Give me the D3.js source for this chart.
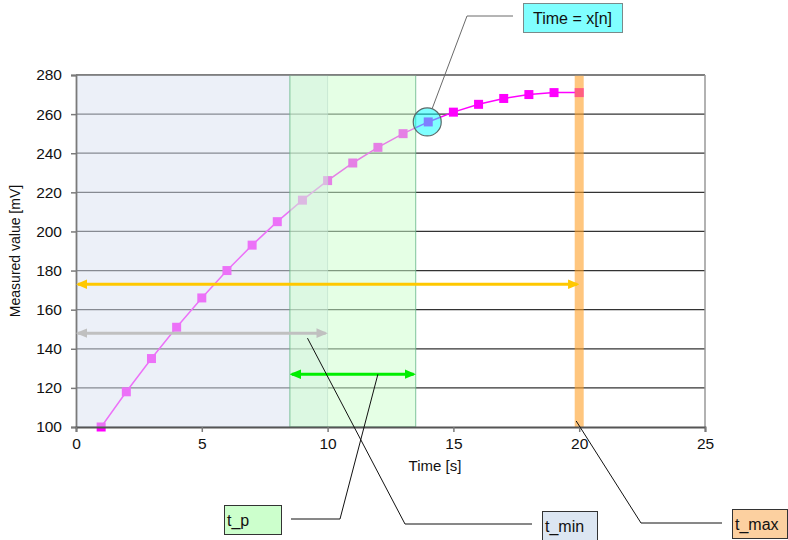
<!DOCTYPE html>
<html>
<head>
<meta charset="utf-8">
<script src="https://cdn.jsdelivr.net/npm/d3@7"></script>
<style>
  html, body { margin: 0; padding: 0; background: #fff; }
  svg { display: block; font-family: "Liberation Sans", Arial, sans-serif; }
</style>
</head>
<body>
<svg id="chart" width="788" height="540"></svg>
<script>
// ---- data ----
const times = [1, 2, 3, 4, 5, 6, 7, 8, 9, 10, 11, 12, 13, 14, 15, 16, 17, 18, 19, 20];
const values = [100, 118, 135, 151, 166, 180, 193, 205, 216, 226, 235, 243, 250, 256, 261, 265, 268, 270, 271, 271];
const xTicks = [0, 5, 10, 15, 20, 25];
const yTicks = [100, 120, 140, 160, 180, 200, 220, 240, 260, 280];
const tMinRange = [0, 10];
const tPRange = [8.5, 13.5];
const tMax = 20;
const xnIndex = 13; // x[n] = 14
const arrowYellow = [0, 20, 173];
const arrowGray = [0, 10, 148];
const arrowGreen = [8.5, 13.5, 127];
const labels = { xn: "Time = x[n]", tp: "t_p", tmin: "t_min", tmax: "t_max" };

// ---- layout ----
const svg = d3.select("#chart");
const m = { left: 76, right: 705, top: 75, bottom: 427 };
const x = d3.scaleLinear().domain([0, 25]).range([m.left, m.right]);
const y = d3.scaleLinear().domain([100, 280]).range([m.bottom, m.top]);

// defs: clip + arrow markers
const defs = svg.append("defs");
defs.append("clipPath").attr("id", "plotclip").append("rect")
  .attr("x", m.left).attr("y", m.top).attr("width", m.right - m.left).attr("height", m.bottom - m.top);
function marker(id, color) {
  defs.append("marker").attr("id", id).attr("viewBox", "0 0 10 10")
    .attr("refX", 8).attr("refY", 5).attr("markerWidth", 3.8).attr("markerHeight", 3.8)
    .attr("markerUnits", "strokeWidth").attr("orient", "auto-start-reverse")
    .append("path").attr("d", "M0,0.8 L10,5 L0,9.2 Z").attr("fill", color);
}
marker("arrY", "#ffc800");
marker("arrG", "#c0c0c0");
marker("arrN", "#00ee00");

// grid lines
svg.append("g").selectAll("line").data(yTicks.filter(d => d !== 100)).join("line")
  .attr("x1", m.left).attr("x2", m.right)
  .attr("y1", d => y(d)).attr("y2", d => y(d))
  .attr("stroke", "#333").attr("stroke-width", 1.3);

// line + markers
const line = d3.line().x((d, i) => x(times[i])).y(d => y(d));
svg.append("path").datum(values).attr("d", line)
  .attr("fill", "none").attr("stroke", "#ff00ff").attr("stroke-width", 1.5);
svg.append("g").selectAll("rect").data(values).join("rect")
  .attr("x", (d, i) => x(times[i]) - 4.5).attr("y", d => y(d) - 4.5)
  .attr("width", 9).attr("height", 9).attr("fill", "#ff00ff");

// overlays
const ov = svg.append("g").attr("clip-path", "url(#plotclip)");
ov.append("rect")
  .attr("x", x(tMinRange[0])).attr("width", x(tMinRange[1]) - x(tMinRange[0]))
  .attr("y", m.top).attr("height", m.bottom - m.top)
  .attr("fill", "#d9e1f1").attr("fill-opacity", 0.5)
  .attr("stroke", "#a8b8c8").attr("stroke-opacity", 0.6);
ov.append("rect")
  .attr("x", x(tPRange[0])).attr("width", x(tPRange[1]) - x(tPRange[0]))
  .attr("y", m.top).attr("height", m.bottom - m.top)
  .attr("fill", "#ccffcc").attr("fill-opacity", 0.5)
  .attr("stroke", "#6ab88a").attr("stroke-opacity", 0.7).attr("stroke-width", 1.2);
ov.append("rect")
  .attr("x", x(tMax) - 4.5).attr("width", 9)
  .attr("y", m.top).attr("height", m.bottom - m.top)
  .attr("fill", "#ffa028").attr("fill-opacity", 0.6);

// axes frame
svg.append("line").attr("x1", m.left).attr("x2", m.right).attr("y1", m.top).attr("y2", m.top)
  .attr("stroke", "#888").attr("stroke-width", 1.5);
svg.append("line").attr("x1", m.right).attr("x2", m.right).attr("y1", m.top).attr("y2", m.bottom)
  .attr("stroke", "#999").attr("stroke-width", 1.5);

const yAxis = svg.append("g").attr("transform", `translate(${m.left},0)`)
  .call(d3.axisLeft(y).tickValues(yTicks).tickSize(5).tickPadding(9).tickFormat(d3.format("d")));
const xAxis = svg.append("g").attr("transform", `translate(0,${m.bottom})`)
  .call(d3.axisBottom(x).tickValues(xTicks).tickSize(5).tickPadding(6).tickFormat(d3.format("d")));
[yAxis, xAxis].forEach(g => {
  g.select(".domain").attr("stroke", "#7a7a7a").attr("stroke-width", 1.8);
  g.selectAll(".tick line").attr("stroke", "#7a7a7a").attr("stroke-width", 1.5);
  g.selectAll(".tick text").attr("font-size", 15.5).attr("fill", "#111")
    .attr("font-family", "'Liberation Sans', Arial, sans-serif");
});
xAxis.select(".domain").attr("stroke", "#555");

// axis titles
svg.append("text").attr("transform", `translate(20,${(m.top + m.bottom) / 2}) rotate(-90)`)
  .attr("text-anchor", "middle").attr("font-size", 14).attr("fill", "#111").text("Measured value [mV]");
svg.append("text").attr("x", 435).attr("y", 471)
  .attr("text-anchor", "middle").attr("font-size", 15).attr("fill", "#111").text("Time [s]");

// arrows
function arrow(a, color, mk) {
  svg.append("line")
    .attr("x1", x(a[0]) + 2).attr("x2", x(a[1]) - 2)
    .attr("y1", y(a[2])).attr("y2", y(a[2]))
    .attr("stroke", color).attr("stroke-width", 3)
    .attr("marker-start", `url(#${mk})`).attr("marker-end", `url(#${mk})`);
}
arrow(arrowYellow, "#ffc800", "arrY");
arrow(arrowGray, "#c0c0c0", "arrG");
arrow(arrowGreen, "#00ee00", "arrN");

// highlight circle at x[n]
const cx = x(times[xnIndex]) - 1, cy = y(values[xnIndex]);
svg.append("circle").attr("cx", cx).attr("cy", cy).attr("r", 14)
  .attr("fill", "#00ffff").attr("fill-opacity", 0.5)
  .attr("stroke", "#5a6a6a").attr("stroke-width", 1.2);

// callouts
function box(x0, y0, w, h, fill, stroke, text, anchor) {
  svg.append("rect").attr("x", x0 + 0.5).attr("y", y0 + 0.5).attr("width", w).attr("height", h)
    .attr("fill", fill).attr("stroke", stroke).attr("stroke-width", 1);
  const t = svg.append("text").attr("y", y0 + h / 2 + 6).attr("font-size", 16).attr("fill", "#111").text(text);
  if (anchor === "middle") t.attr("x", x0 + w / 2).attr("text-anchor", "middle");
  else t.attr("x", x0 + 3);
}
function leader(pts, color) {
  svg.append("path").attr("d", d3.line()(pts)).attr("fill", "none")
    .attr("stroke", color).attr("stroke-width", 1);
}
// Time = x[n]
leader([[cx + 5, cy - 13.5], [467, 16], [513, 16]], "#6a6a6a");
box(523, 3, 99, 29, "#80ffff", "#7a8a8a", labels.xn, "middle");
// t_p
leader([[x(12), y(arrowGreen[2])], [340, 519], [291, 519]], "#111");
box(224, 505, 57, 29, "#ccffcc", "#333", labels.tp, "start");
// t_min
leader([[x(9.2), y(arrowGray[2]) + 5], [405, 524], [532, 524]], "#111");
box(542, 511, 55, 30, "#dce6f2", "#333", labels.tmin, "start");
// t_max
leader([[x(tMax) - 3, m.bottom - 6], [641, 523], [722, 523]], "#111");
box(732, 509, 55, 29, "#fcd0a0", "#333", labels.tmax, "start");
</script>
</body>
</html>
